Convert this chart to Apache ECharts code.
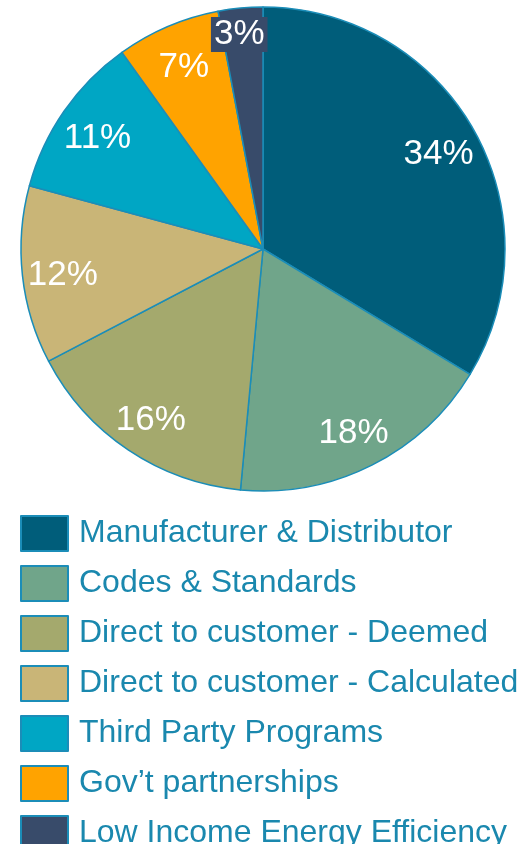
<!DOCTYPE html>
<html>
<head>
<meta charset="utf-8">
<script src="https://cdn.jsdelivr.net/npm/echarts@6/dist/echarts.min.js"></script>
<style>
  html, body { margin: 0; padding: 0; background: #fff; }
  #chart { width: 530px; height: 844px; }
</style>
</head>
<body>
<div id="chart"></div>
<script>
  // program shares (%)
  var categories = [
    'Manufacturer & Distributor',
    'Codes & Standards',
    'Direct to customer - Deemed',
    'Direct to customer - Calculated',
    'Third Party Programs',
    'Gov\u2019t partnerships',
    'Low Income Energy Efficiency'
  ];
  var shares = [34, 18, 16, 12, 11, 7, 3];
  var colors = ['#005d7a', '#70a58a', '#a4a96d', '#c9b577', '#00a6c4', '#ffa300', '#384b6a'];

  var borderCol = '#1b8db8';
  var R = 242;

  var pieData = categories.map(function (name, i) {
    return { name: name, value: shares[i], itemStyle: { color: colors[i] } };
  });

  // transparent ring only used to put the labels further out
  var labelData = categories.map(function (name, i) {
    var d = { name: name, value: shares[i] };
    if (i === categories.length - 1) {
      d.label = { backgroundColor: colors[i], padding: [0, 3, 0, 3], offset: [-5, -14] };
    }
    return d;
  });

  var myChart = echarts.init(document.getElementById('chart'));
  var option = {
    animation: false,
    legend: {
      orient: 'vertical',
      left: 20,
      top: 515,
      height: 420,
      padding: 0,
      itemWidth: 47,
      itemHeight: 35,
      itemGap: 13,
      icon: 'rect',
      selectedMode: false,
      data: categories,
      itemStyle: { borderColor: borderCol, borderWidth: 2 },
      textStyle: {
        color: '#1a88ae',
        fontSize: 32,
        lineHeight: 33,
        fontFamily: 'Liberation Sans, Arial, sans-serif',
        padding: [0, 0, 0, 6]
      }
    },
    series: [{
      type: 'pie',
      center: [263, 249],
      radius: [0, R],
      startAngle: 90,
      clockwise: true,
      silent: true,
      label: { show: false },
      labelLine: { show: false },
      itemStyle: { borderColor: borderCol, borderWidth: 1.5 },
      data: pieData
    }, {
      type: 'pie',
      center: [263, 249],
      radius: [R * 0.64, R],
      startAngle: 90,
      clockwise: true,
      silent: true,
      itemStyle: { color: 'rgba(0,0,0,0)', borderWidth: 0 },
      label: {
        show: true,
        position: 'inside',
        color: '#fff',
        fontSize: 35,
        offset: [0, 4],
        fontFamily: 'Liberation Sans, Arial, sans-serif',
        formatter: function (p) { return p.value + '%'; }
      },
      labelLine: { show: false },
      emphasis: { disabled: true },
      data: labelData
    }]
  };
  myChart.setOption(option);
  window.onresize = function () {
    myChart.resize();
  };
</script>
</body>
</html>
